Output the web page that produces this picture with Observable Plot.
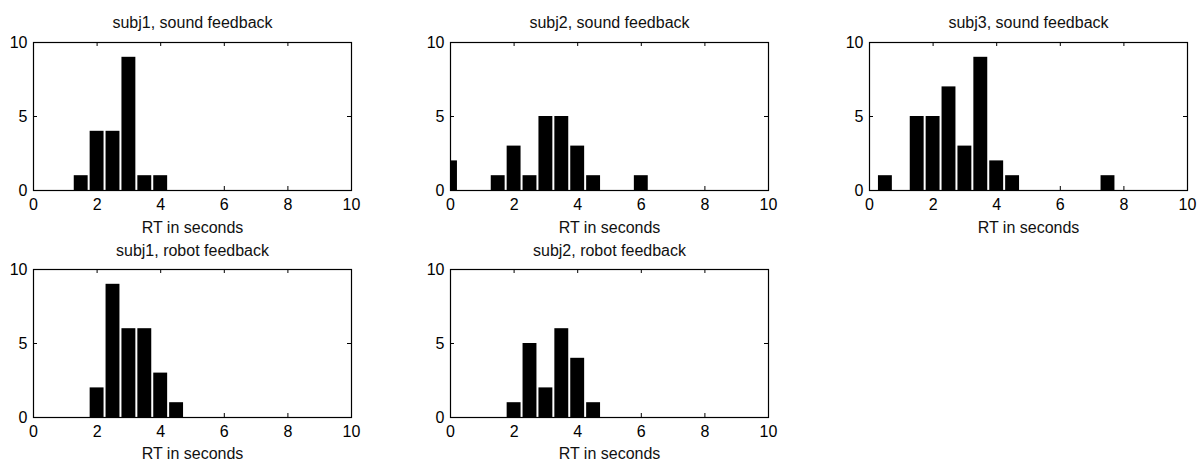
<!DOCTYPE html>
<html><head><meta charset="utf-8">
<script src="https://cdn.jsdelivr.net/npm/d3@7"></script>
<script src="https://cdn.jsdelivr.net/npm/@observablehq/plot@0.6"></script>
<style>
body{margin:0;background:#fff;}
#wrap{position:relative;width:1200px;height:463px;overflow:hidden;background:#fff;}
.panel{position:absolute;}
</style></head><body><div id="wrap"></div>
<script>
// Histogram bin centres (seconds), bin width 0.5
const binCenters = [0,0.5,1,1.5,2,2.5,3,3.5,4,4.5,5,5.5,6,6.5,7,7.5,8,8.5,9,9.5,10];
const binWidth = 0.5;
const subj1Sound = [0,0,0,1,4,4,9,1,1,0,0,0,0,0,0,0,0,0,0,0,0];
const subj2Sound = [2,0,0,1,3,1,5,5,3,1,0,0,1,0,0,0,0,0,0,0,0];
const subj3Sound = [0,1,0,5,5,7,3,9,2,1,0,0,0,0,0,1,0,0,0,0,0];
const subj1Robot = [0,0,0,0,2,9,6,6,3,1,0,0,0,0,0,0,0,0,0,0,0];
const subj2Robot = [0,0,0,0,1,5,2,6,4,1,0,0,0,0,0,0,0,0,0,0,0];
const titles = ["subj1, sound feedback","subj2, sound feedback","subj3, sound feedback","subj1, robot feedback","subj2, robot feedback"];
const seriesList = [subj1Sound, subj2Sound, subj3Sound, subj1Robot, subj2Robot];
const xTicks = [0,2,4,6,8,10];
const yTicks = [0,5,10];
const xLabel = "RT in seconds";

const frameLefts = [33, 450, 868.5];
const rowTops = [0, 228];
const rowMargins = [{top:42, bottom:38}, {top:41, bottom:46}];
const panelPos = [[0,0],[0,1],[0,2],[1,0],[1,1]];
const FW = 318, FH = 148, ML = 40, MR = 20;
const font = "'Liberation Sans', Arial, sans-serif";

const wrap = document.getElementById("wrap");
seriesList.forEach((counts, i) => {
  const [row, col] = panelPos[i];
  const m = rowMargins[row];
  const data = binCenters.map((c, j) => ({c, n: counts[j]})).filter(d => d.n > 0);
  const chart = Plot.plot({
    width: ML + FW + MR,
    height: m.top + FH + m.bottom,
    marginLeft: ML, marginRight: MR, marginTop: m.top, marginBottom: m.bottom,
    style: {background: "none", overflow: "visible", fontFamily: font, color: "black"},
    x: {domain: [0, 10]},
    y: {domain: [0, 10]},
    marks: [
      Plot.rect(data, {x1: d => d.c - binWidth/2, x2: d => d.c + binWidth/2, y1: 0, y2: "n", fill: "black", insetLeft: 1, insetRight: 1, clip: true}),
      Plot.ruleX(xTicks, {x: d => d, insetTop: FH - 4, stroke: "black"}),
      Plot.ruleX(xTicks, {x: d => d, insetBottom: FH - 4, stroke: "black"}),
      Plot.ruleY(yTicks, {y: d => d, insetRight: FW - 4, stroke: "black"}),
      Plot.ruleY(yTicks, {y: d => d, insetLeft: FW - 4, stroke: "black"}),
      Plot.frame({stroke: "black", strokeWidth: 1.2}),
      Plot.axisX({ticks: xTicks, tickSize: 0, tickPadding: 0, label: null, fontSize: 16, dy: 8, tickFormat: d => String(d)}),
      Plot.axisY({ticks: yTicks, tickSize: 0, tickPadding: 6, label: null, fontSize: 16, tickFormat: d => String(d)}),
      Plot.text([titles[i]], {frameAnchor: "top", lineAnchor: "middle", dy: row === 0 ? -20 : -19, fontSize: 16, fill: "#111"}),
      Plot.text([xLabel], {frameAnchor: "bottom", lineAnchor: "middle", dy: row === 0 ? 37 : 36, fontSize: 16, fill: "#111"})
    ]
  });
  chart.classList.add("panel");
  chart.style.left = (frameLefts[col] - ML) + "px";
  chart.style.top = rowTops[row] + "px";
  wrap.appendChild(chart);
});
</script></body></html>
